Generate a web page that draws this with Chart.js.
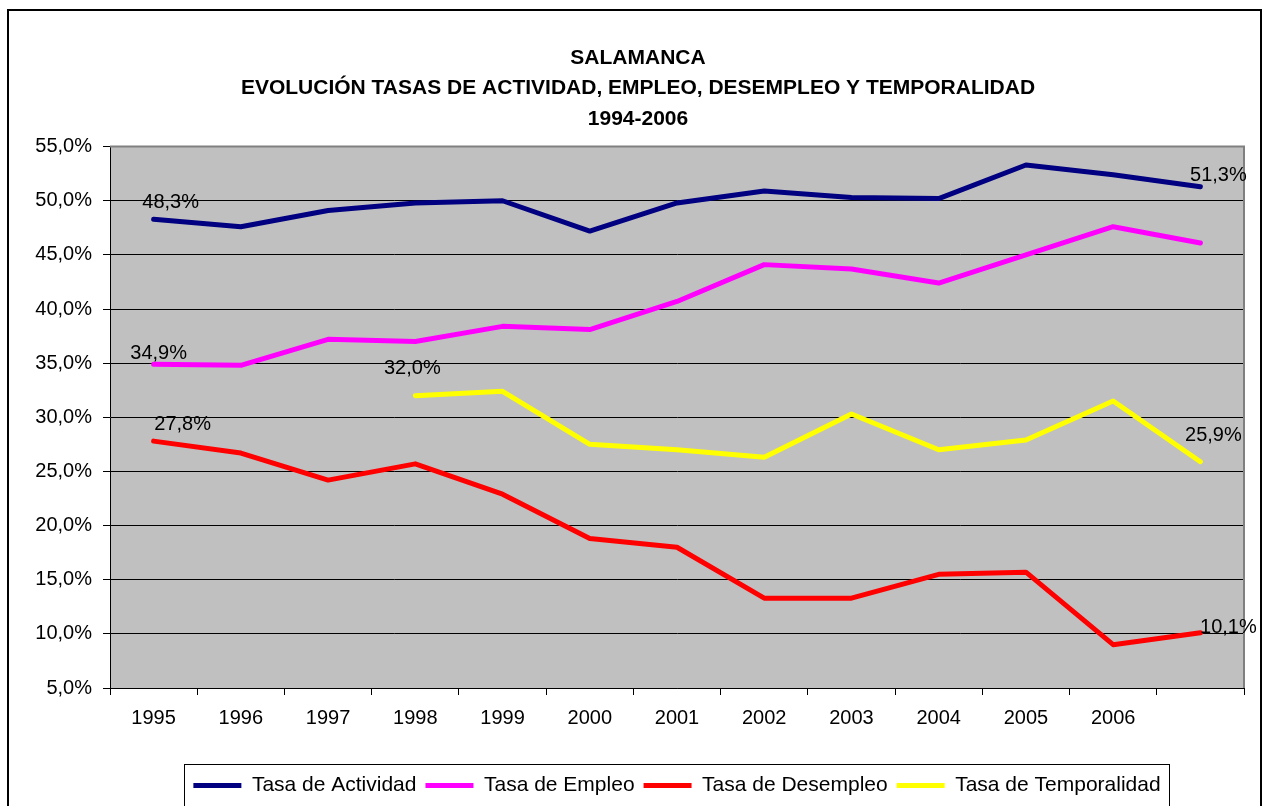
<!DOCTYPE html>
<html>
<head>
<meta charset="utf-8">
<title>Salamanca - tasas</title>
<script src="https://cdn.jsdelivr.net/npm/chart.js@4/dist/chart.umd.min.js"></script>
<style>
  html, body { margin: 0; padding: 0; background: #fff; }
  #wrap { position: relative; width: 1269px; height: 806px; }
</style>
</head>
<body>
<div id="wrap"><canvas id="myChart"></canvas></div>
<script>
// categories (the 13th point has no year under it on the axis)
var years = ["1995", "1996", "1997", "1998", "1999", "2000", "2001", "2002", "2003", "2004", "2005", "2006", ""];

// series values, in %
var actividad = [48.3, 47.6, 49.1, 49.8, 50.0, 47.2, 49.8, 50.9, 50.3, 50.2, 53.3, 52.4, 51.3];
var empleo = [34.9, 34.8, 37.2, 37.0, 38.4, 38.1, 40.7, 44.1, 43.7, 42.4, 45.0, 47.6, 46.1];
var desempleo = [27.8, 26.7, 24.2, 25.7, 22.9, 18.8, 18.0, 13.3, 13.3, 15.5, 15.7, 9.0, 10.1];
var temporalidad = [null, null, null, 32.0, 32.4, 27.5, 27.0, 26.3, 30.3, 27.0, 27.9, 31.5, 25.9];

// y axis ticks
var yMin = 5;
var yMax = 55;
var yStep = 5;

function pct(v) {
  return v.toFixed(1).replace(".", ",") + "%";
}

// which points get a value label, and where it sits from the point
var labelSpots = [
  { ds: 0, i: 0, dx: 17, dy: -17 },
  { ds: 0, i: 12, dx: 18, dy: -11 },
  { ds: 1, i: 0, dx: 5, dy: -11 },
  { ds: 2, i: 0, dx: 29, dy: -17 },
  { ds: 2, i: 12, dx: 28, dy: -5 },
  { ds: 3, i: 3, dx: -3, dy: -27 },
  { ds: 3, i: 12, dx: 13, dy: -26 },
];

var FONT = '"Liberation Sans", Arial, sans-serif';
Chart.defaults.font.family = FONT;
Chart.defaults.color = "#000";

// gray plot area + outer frame
var plotBox = {
  id: "plotBox",
  beforeDraw: function (chart) {
    var ctx = chart.ctx;
    var a = chart.chartArea;
    ctx.save();
    ctx.fillStyle = "#fff";
    ctx.fillRect(0, 0, chart.width, chart.height);
    ctx.strokeStyle = "#000";
    ctx.lineWidth = 2;
    ctx.strokeRect(8, 10, 1253, 820);
    ctx.fillStyle = "#c0c0c0";
    ctx.fillRect(a.left, a.top, a.right - a.left, a.bottom - a.top);
    ctx.restore();
  },
  beforeDatasetsDraw: function (chart) {
    var ctx = chart.ctx;
    var a = chart.chartArea;
    ctx.save();
    ctx.strokeStyle = "#808080";
    ctx.lineWidth = 2;
    ctx.beginPath();
    ctx.moveTo(a.left, a.top);
    ctx.lineTo(a.right, a.top);
    ctx.lineTo(a.right, a.bottom);
    ctx.stroke();
    ctx.restore();
  },
};

// value labels on first / last points
var valueLabels = {
  id: "valueLabels",
  afterDatasetsDraw: function (chart) {
    var ctx = chart.ctx;
    ctx.save();
    ctx.font = "20px " + FONT;
    ctx.fillStyle = "#000";
    ctx.textAlign = "center";
    ctx.textBaseline = "middle";
    labelSpots.forEach(function (s) {
      var pt = chart.getDatasetMeta(s.ds).data[s.i];
      var v = chart.data.datasets[s.ds].data[s.i];
      ctx.fillText(pct(v), pt.x + s.dx, pt.y + s.dy);
    });
    ctx.restore();
  },
};

// legend centred under the plot, with a frame round it
var legendFrame = {
  id: "legendFrame",
  afterLayout: function (chart) {
    var lg = chart.legend;
    var a = chart.chartArea;
    var shift = (a.left + a.right) / 2 - (lg.left + lg.right) / 2;
    lg.left += shift;
    lg.right += shift;
  },
  afterDraw: function (chart) {
    var lg = chart.legend;
    var pad = lg.options.labels.padding;
    var w = lg.lineWidths[0] - pad;
    var cx = (lg.left + lg.right) / 2;
    var cy = lg.top + pad + 10;
    var ctx = chart.ctx;
    ctx.save();
    ctx.strokeStyle = "#000";
    ctx.lineWidth = 1;
    ctx.strokeRect(Math.round(cx - w / 2 - 9) + 0.5, Math.round(cy - 21) + 0.5, Math.round(w + 18), 42);
    ctx.restore();
  },
};

var ctx = document.getElementById("myChart").getContext("2d");
var myChart = new Chart(ctx, {
  type: "line",
  data: {
    labels: years,
    datasets: [
      { label: "Tasa de Actividad", data: actividad, borderColor: "#000080", backgroundColor: "#000080" },
      { label: "Tasa de Empleo", data: empleo, borderColor: "#ff00ff", backgroundColor: "#ff00ff" },
      { label: "Tasa de Desempleo", data: desempleo, borderColor: "#ff0000", backgroundColor: "#ff0000" },
      { label: "Tasa de Temporalidad", data: temporalidad, borderColor: "#ffff00", backgroundColor: "#ffff00" },
    ],
  },
  options: {
    responsive: true,
    maintainAspectRatio: false,
    animation: false,
    events: [],
    layout: { padding: { left: 32, right: 25, top: 0, bottom: 0 } },
    elements: {
      line: { borderWidth: 5, tension: 0, borderCapStyle: "round", borderJoinStyle: "round" },
      // radius 0 hides the points; the border width is what the legend line uses
      point: { radius: 0, borderWidth: 5 },
    },
    scales: {
      x: {
        offset: true,
        border: { color: "#000", width: 1 },
        grid: { offset: true, drawOnChartArea: false, drawTicks: true, tickLength: 7, tickColor: "#000" },
        ticks: { font: { size: 20 }, padding: 11, maxRotation: 0, autoSkip: false },
        afterFit: function (axis) {
          axis.height = 78;
        },
      },
      y: {
        min: yMin,
        max: yMax,
        border: { color: "#000", width: 1 },
        grid: { color: "#000", tickColor: "#000", tickLength: 7 },
        ticks: {
          stepSize: yStep,
          font: { size: 20 },
          padding: 11,
          callback: function (v) {
            return pct(v);
          },
        },
        afterFit: function (axis) {
          axis.width = 78;
        },
      },
    },
    plugins: {
      tooltip: { enabled: false },
      title: {
        display: true,
        text: ["SALAMANCA", "EVOLUCIÓN TASAS DE ACTIVIDAD, EMPLEO, DESEMPLEO Y TEMPORALIDAD", "1994-2006"],
        color: "#000",
        font: { size: 21, weight: "bold", lineHeight: 1.45 },
        padding: { top: 42.75, bottom: 12.5 },
      },
      legend: {
        position: "bottom",
        maxHeight: 41,
        labels: {
          usePointStyle: true,
          pointStyle: "line",
          pointStyleWidth: 48,
          padding: 9,
          color: "#000",
          font: { size: 21 },
        },
      },
    },
  },
  plugins: [plotBox, valueLabels, legendFrame],
});
</script>
</body>
</html>
